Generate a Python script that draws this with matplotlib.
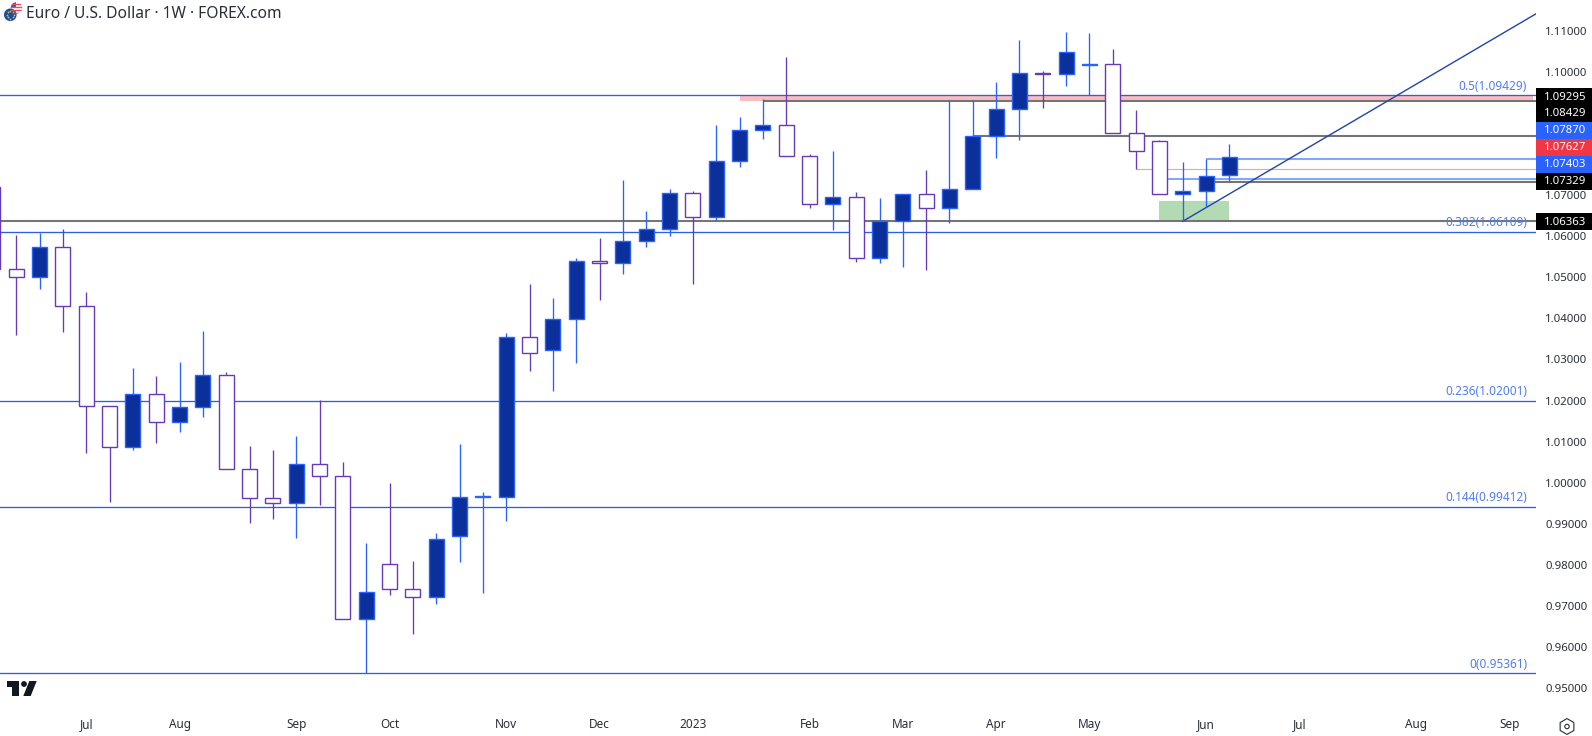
import numpy as np
import matplotlib
matplotlib.use("Agg")
import matplotlib.pyplot as plt
from matplotlib.patches import Rectangle, Polygon, Circle

plt.rcParams['font.family'] = ['Noto Sans', 'DejaVu Sans']

# weekly candles, first one only shows its right edge at the chart border
open_px = [1.07189, 1.05193, 1.04998, 1.05729, 1.04293, 1.01859, 1.00861, 1.02151, 1.01469, 1.01834,
           1.02613, 1.00325, 0.99619, 0.99514, 1.00447, 1.00155, 0.96675, 0.98013, 0.97405, 0.97226,
           0.98695, 0.99644, 0.99660, 1.03538, 1.03238, 1.03976, 1.05388, 1.05339, 1.05875, 1.06167,
           1.07043, 1.06459, 1.07822, 1.08576, 1.08698, 1.07944, 1.06775, 1.06946, 1.05461, 1.06362,
           1.07019, 1.06678, 1.07141, 1.08431, 1.09088, 1.09964, 1.09940, 1.10175, 1.10183, 1.08503,
           1.08309, 1.07019, 1.07092, 1.07481]
high_px = [1.07189, 1.06029, 1.06078, 1.06167, 1.04642, 1.01859, 1.02792, 1.02597, 1.02938, 1.03692,
           1.02694, 1.00893, 1.00796, 1.01137, 1.02005, 1.00504, 0.98524, 0.99985, 0.98086, 0.98768,
           1.00934, 0.99766, 1.03644, 1.04836, 1.04495, 1.05469, 1.05956, 1.07368, 1.06613, 1.07148,
           1.07100, 1.08706, 1.08901, 1.09331, 1.10353, 1.08000, 1.08065, 1.07075, 1.06929, 1.07019,
           1.07611, 1.09307, 1.09307, 1.09753, 1.10775, 1.10021, 1.10970, 1.10946, 1.10556, 1.09071,
           1.08341, 1.07806, 1.07879, 1.08244]
low_px = [1.05193, 1.03603, 1.04723, 1.03676, 1.00731, 0.99538, 1.00804, 1.00974, 1.01242, 1.01607,
          1.00325, 0.99027, 0.99125, 0.98662, 0.99457, 0.96675, 0.95360, 0.97275, 0.96326, 0.97056,
          0.98070, 0.97324, 0.99076, 1.02727, 1.02240, 1.02921, 1.04447, 1.05080, 1.05745, 1.06013,
          1.04836, 1.06394, 1.07692, 1.08374, 1.07944, 1.06694, 1.06151, 1.05380, 1.05355, 1.05258,
          1.05185, 1.06329, 1.07141, 1.07911, 1.08349, 1.09128, 1.09664, 1.09437, 1.08503, 1.07627,
          1.07019, 1.06370, 1.06718, 1.07352]
close_px = [1.05193, 1.04998, 1.05729, 1.04293, 1.01859, 1.00861, 1.02151, 1.01469, 1.01834, 1.02613,
            1.00325, 0.99619, 0.99514, 1.00447, 1.00155, 0.96675, 0.97331, 0.97405, 0.97226, 0.98622,
            0.99644, 0.99668, 1.03538, 1.03149, 1.03976, 1.05388, 1.05339, 1.05875, 1.06167, 1.07043,
            1.06459, 1.07822, 1.08576, 1.08698, 1.07944, 1.06775, 1.06946, 1.05461, 1.06362, 1.07019,
            1.06678, 1.07141, 1.08431, 1.09088, 1.09964, 1.09940, 1.10475, 1.10191, 1.08503, 1.08065,
            1.07019, 1.07092, 1.07473, 1.07919]

# fibonacci levels
fib_ratio = ['0.5', '0.382', '0.236', '0.144', '0']
fib_price = [1.09429, 1.06109, 1.02001, 0.99412, 0.95361]

# horizontal levels: price, first bar
grey_price = [1.09300, 1.08429, 1.07329, 1.06363]
grey_start = [32, 41, 51, -2]
light_price = [1.07870, 1.07403]
light_start = [51, 49]
last_price = 1.07627
last_start = 48

# trend line and marked zone
trend_x = [50, 66]
trend_y = [1.06363, 1.11700]
zone_x = [49, 52]
zone_y = [1.06363, 1.06857]
band_x = [31, 65]
band_y = [1.09300, 1.09429]

y_ticks = [1.11, 1.10, 1.07, 1.06, 1.05, 1.04, 1.03, 1.02, 1.01, 1.00, 0.99, 0.98, 0.97, 0.96, 0.95]
x_tick_pos = [-1, 3, 7, 12, 16, 21, 25, 29, 34, 38, 42, 46, 51, 55, 60, 64]
x_tick_labels = ['Jun', 'Jul', 'Aug', 'Sep', 'Oct', 'Nov', 'Dec', '2023', 'Feb', 'Mar', 'Apr', 'May', 'Jun', 'Jul', 'Aug', 'Sep']

# price tags on the right, stacked so they do not collide
tag_labels = ['1.09295', '1.08429', '1.07870', '1.07627', '1.07403', '1.07329', '1.06363']
tag_colors = ['#000000', '#000000', '#2962ff', '#f23645', '#2962ff', '#000000', '#000000']
tag_tops = [88.3, 105, 122, 139, 156, 173, 213.3]

BLUE_EDGE = '#2962ff'
BLUE_FILL = '#0b309b'
PURPLE = '#673ab7'
FIB = '#2b5fe6'
GREY = '#757575'
TEXT = '#2a2e39'
W, H = 1592, 736
XLIM = (-0.6987, 65.14)


def main():
  fig = plt.figure(figsize=(W / 100, H / 100), dpi=100, facecolor='white')
  ax = fig.add_axes([0, 1 - 708 / H, 1536 / W, 708 / H])
  ax.set_xlim(*XLIM)
  ax.set_ylim(0.94517, 1.11749)
  for s in ax.spines.values():
    s.set_visible(False)

  # zone and levels sit behind the candles
  ax.fill_between(zone_x, zone_y[0], zone_y[1], color='#b2dbb4', lw=0, zorder=1)
  ax.fill_between(band_x, band_y[0], band_y[1], color='#fcbcbc', lw=0, zorder=1)
  for p in fib_price:
    ax.axhline(p, color=FIB, lw=0.95, zorder=2)
  xmax = XLIM[1]
  ax.hlines(grey_price, grey_start, xmax, color=GREY, lw=1.5, zorder=2)
  ax.hlines(light_price, light_start, xmax, color='#82a8fa', lw=1.5, zorder=2)
  ax.hlines(last_price, last_start, xmax, color='#f2a0a0', lw=0.8, zorder=2)
  ax.plot(trend_x, trend_y, color='#1f45ad', lw=1.0, zorder=2.5)

  xs = np.arange(len(open_px)) - 1
  o = np.array(open_px)
  c = np.array(close_px)
  up = c >= o
  ax.vlines(xs, low_px, high_px, colors=[BLUE_EDGE if u else PURPLE for u in up], lw=0.95, zorder=3)
  ax.bar(xs[up], (c - o)[up], bottom=o[up], width=0.64, color=BLUE_FILL, edgecolor=BLUE_EDGE, lw=1.0, zorder=4)
  ax.bar(xs[~up], (o - c)[~up], bottom=c[~up], width=0.64, color='white', edgecolor=PURPLE, lw=1.0, zorder=4)

  # fib labels just above their lines
  for r, p in zip(fib_ratio, fib_price):
    ax.annotate(f'{r}({p:.5f})', (xmax, p), xytext=(-6.5, 2), textcoords='offset points',
                ha='right', va='bottom', color='#4f7df0', fontsize=8.5, zorder=5)

  ax.yaxis.tick_right()
  ax.set_yticks(y_ticks)
  ax.set_yticklabels([f'{v:.5f}' for v in y_ticks])
  ax.set_xticks(x_tick_pos[1:])
  ax.set_xticklabels(x_tick_labels[1:])
  ax.set_xlim(*XLIM)
  ax.tick_params(axis='y', length=0, pad=6.5, labelsize=8.2, labelcolor=TEXT)
  ax.tick_params(axis='x', length=0, pad=7.2, labelsize=8.5, labelcolor=TEXT)
  ax.get_xticklabels()[6].set_fontweight('bold')
  # the first month label sits half outside the figure, as in the original
  ax.annotate(x_tick_labels[0], (x_tick_pos[0], 0), xycoords=('data', 'axes fraction'), xytext=(0, -7.2),
              textcoords='offset points', ha='center', va='top', fontsize=8.5, color=TEXT, annotation_clip=False)

  # title, logo, tags and icons in pixel space
  top = fig.add_axes([0, 0, 1, 1], facecolor='none')
  top.set_xlim(0, W)
  top.set_ylim(H, 0)
  top.axis('off')

  top.text(26, 13.5, 'Euro / U.S. Dollar \u00b7 1W \u00b7 FOREX.com', fontsize=11.2, color=TEXT, va='center', ha='left')

  for label, color, y in zip(tag_labels, tag_colors, tag_tops):
    top.add_patch(Rectangle((1536, y), 56, 17, color=color, lw=0))
    top.text(1586, y + 8.8, label, color='white', fontsize=8.2, ha='right', va='center', fontweight='medium')

  # flags
  us = Circle((16.5, 8), 5.8, color='white', lw=0)
  top.add_patch(us)
  for yy in (3.5, 6.5, 9.5, 12.5):
    line, = top.plot([10, 23], [yy, yy], color='#e05060', lw=1.0)
    line.set_clip_path(us)
  canton = Rectangle((10, 2), 6, 6, color='#3a5db0', lw=0)
  top.add_patch(canton)
  canton.set_clip_path(us)
  top.add_patch(Circle((10.3, 14.8), 7.2, color='white', lw=0))
  top.add_patch(Circle((10.3, 14.8), 6.3, color='#1d4e9e', lw=0))
  ang = np.linspace(0, 2 * np.pi, 8, endpoint=False)
  top.scatter(10.3 + 3.8 * np.cos(ang), 14.8 + 3.8 * np.sin(ang), s=1.5, color='#f5c518', lw=0)

  # TradingView mark
  LOGO = '#131722'
  top.add_patch(Polygon([(7, 681), (19.3, 681), (19.3, 696), (12.3, 696), (12.3, 686.7), (7, 686.7)], color=LOGO, lw=0))
  top.add_patch(Circle((24, 684), 2.9, color=LOGO, lw=0))
  top.add_patch(Polygon([(29.3, 681), (36.7, 681), (30.7, 696), (23.3, 696)], color=LOGO, lw=0))

  # settings icon
  top.scatter([1567], [726.5], marker='h', s=130, facecolors='none', edgecolors=TEXT, linewidths=0.8)
  top.scatter([1567], [726.5], marker='o', s=10, facecolors='none', edgecolors=TEXT, linewidths=0.8)

  fig.savefig('out.png', dpi=100)


if __name__ == "__main__":
  main()
